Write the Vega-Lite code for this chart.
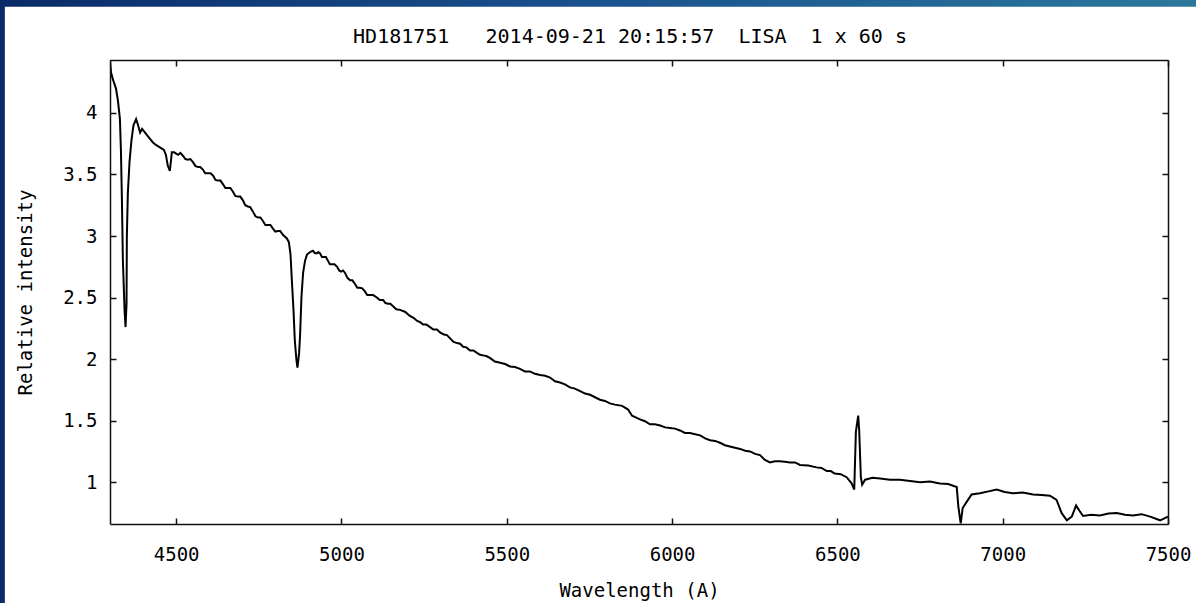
{
  "$schema": "https://vega.github.io/schema/vega-lite/v6.json",
  "width": 1058,
  "height": 464,
  "autosize": {"type": "none"},
  "padding": {"left": 110, "top": 60, "right": 28, "bottom": 79},
  "background": "#ffffff",
  "config": {"view": {"stroke": null}},
  "title": {
    "text": "HD181751\u00a0\u00a0\u00a02014-09-21\u00a020:15:57\u00a0\u00a0LISA\u00a0\u00a01\u00a0x\u00a060\u00a0s",
    "font": "DejaVu Sans Mono",
    "fontSize": 20,
    "fontWeight": "normal",
    "color": "#000000",
    "anchor": "middle",
    "baseline": "alphabetic",
    "dx": -9,
    "dy": 63,
    "offset": 0,
    "zindex": 1
  },
  "data": {
    "values": [
      {"w": 4300, "i": 4.43}, {"w": 4303, "i": 4.33}, {"w": 4309, "i": 4.27}, {"w": 4318, "i": 4.2},
      {"w": 4324, "i": 4.1}, {"w": 4330, "i": 3.95}, {"w": 4333, "i": 3.7}, {"w": 4336, "i": 3.3},
      {"w": 4339, "i": 2.8}, {"w": 4344, "i": 2.4}, {"w": 4347, "i": 2.26}, {"w": 4350, "i": 2.45},
      {"w": 4351, "i": 3.0}, {"w": 4354, "i": 3.35}, {"w": 4359, "i": 3.6}, {"w": 4365, "i": 3.78},
      {"w": 4371, "i": 3.9}, {"w": 4379, "i": 3.95}, {"w": 4385, "i": 3.9}, {"w": 4391, "i": 3.84},
      {"w": 4397, "i": 3.87}, {"w": 4403, "i": 3.85}, {"w": 4412, "i": 3.82}, {"w": 4421, "i": 3.79},
      {"w": 4430, "i": 3.76}, {"w": 4439, "i": 3.74}, {"w": 4451, "i": 3.72}, {"w": 4463, "i": 3.7},
      {"w": 4469, "i": 3.66}, {"w": 4475, "i": 3.57}, {"w": 4481, "i": 3.53}, {"w": 4484, "i": 3.6},
      {"w": 4487, "i": 3.68}, {"w": 4494, "i": 3.68}, {"w": 4506, "i": 3.66}, {"w": 4513, "i": 3.675},
      {"w": 4521, "i": 3.65}, {"w": 4528, "i": 3.625}, {"w": 4536, "i": 3.62}, {"w": 4543, "i": 3.625},
      {"w": 4551, "i": 3.6}, {"w": 4558, "i": 3.57}, {"w": 4566, "i": 3.56}, {"w": 4573, "i": 3.56},
      {"w": 4581, "i": 3.54}, {"w": 4588, "i": 3.51}, {"w": 4596, "i": 3.51}, {"w": 4604, "i": 3.51},
      {"w": 4612, "i": 3.49}, {"w": 4619, "i": 3.455}, {"w": 4627, "i": 3.45}, {"w": 4634, "i": 3.45},
      {"w": 4642, "i": 3.42}, {"w": 4649, "i": 3.39}, {"w": 4657, "i": 3.39}, {"w": 4664, "i": 3.39},
      {"w": 4672, "i": 3.36}, {"w": 4679, "i": 3.325}, {"w": 4687, "i": 3.32}, {"w": 4694, "i": 3.32},
      {"w": 4702, "i": 3.29}, {"w": 4709, "i": 3.25}, {"w": 4717, "i": 3.24}, {"w": 4724, "i": 3.235},
      {"w": 4732, "i": 3.2}, {"w": 4740, "i": 3.16}, {"w": 4748, "i": 3.15}, {"w": 4755, "i": 3.15},
      {"w": 4763, "i": 3.12}, {"w": 4770, "i": 3.09}, {"w": 4778, "i": 3.09}, {"w": 4785, "i": 3.09},
      {"w": 4793, "i": 3.06}, {"w": 4800, "i": 3.035}, {"w": 4808, "i": 3.04}, {"w": 4815, "i": 3.04},
      {"w": 4823, "i": 3.01}, {"w": 4835, "i": 2.98}, {"w": 4841, "i": 2.95}, {"w": 4846, "i": 2.85},
      {"w": 4850, "i": 2.64}, {"w": 4855, "i": 2.4}, {"w": 4859, "i": 2.15}, {"w": 4864, "i": 1.99},
      {"w": 4867, "i": 1.93}, {"w": 4872, "i": 2.05}, {"w": 4875, "i": 2.2}, {"w": 4879, "i": 2.5},
      {"w": 4884, "i": 2.7}, {"w": 4890, "i": 2.8}, {"w": 4896, "i": 2.85}, {"w": 4905, "i": 2.87},
      {"w": 4914, "i": 2.88}, {"w": 4920, "i": 2.86}, {"w": 4926, "i": 2.86}, {"w": 4930, "i": 2.87},
      {"w": 4935, "i": 2.86}, {"w": 4941, "i": 2.83}, {"w": 4947, "i": 2.83}, {"w": 4953, "i": 2.83},
      {"w": 4959, "i": 2.8}, {"w": 4965, "i": 2.77}, {"w": 4971, "i": 2.77}, {"w": 4979, "i": 2.77},
      {"w": 4987, "i": 2.75}, {"w": 4993, "i": 2.72}, {"w": 4999, "i": 2.71}, {"w": 5005, "i": 2.72},
      {"w": 5011, "i": 2.7}, {"w": 5018, "i": 2.66}, {"w": 5026, "i": 2.64}, {"w": 5033, "i": 2.64},
      {"w": 5041, "i": 2.61}, {"w": 5048, "i": 2.58}, {"w": 5056, "i": 2.58}, {"w": 5063, "i": 2.575},
      {"w": 5071, "i": 2.55}, {"w": 5078, "i": 2.52}, {"w": 5086, "i": 2.52}, {"w": 5096, "i": 2.52},
      {"w": 5107, "i": 2.5}, {"w": 5116, "i": 2.48}, {"w": 5126, "i": 2.48}, {"w": 5133, "i": 2.455},
      {"w": 5141, "i": 2.45}, {"w": 5148, "i": 2.45}, {"w": 5156, "i": 2.43}, {"w": 5166, "i": 2.405},
      {"w": 5177, "i": 2.4}, {"w": 5192, "i": 2.385}, {"w": 5207, "i": 2.35}, {"w": 5218, "i": 2.335},
      {"w": 5229, "i": 2.31}, {"w": 5238, "i": 2.3}, {"w": 5247, "i": 2.28}, {"w": 5257, "i": 2.28},
      {"w": 5268, "i": 2.26}, {"w": 5278, "i": 2.24}, {"w": 5289, "i": 2.24}, {"w": 5299, "i": 2.215},
      {"w": 5310, "i": 2.2}, {"w": 5319, "i": 2.195}, {"w": 5328, "i": 2.17}, {"w": 5339, "i": 2.14},
      {"w": 5350, "i": 2.13}, {"w": 5359, "i": 2.125}, {"w": 5368, "i": 2.1}, {"w": 5378, "i": 2.095},
      {"w": 5389, "i": 2.07}, {"w": 5399, "i": 2.07}, {"w": 5410, "i": 2.05}, {"w": 5419, "i": 2.035},
      {"w": 5428, "i": 2.03}, {"w": 5438, "i": 2.025}, {"w": 5449, "i": 2.01}, {"w": 5464, "i": 1.98},
      {"w": 5480, "i": 1.97}, {"w": 5495, "i": 1.96}, {"w": 5510, "i": 1.94}, {"w": 5525, "i": 1.935},
      {"w": 5540, "i": 1.92}, {"w": 5555, "i": 1.9}, {"w": 5570, "i": 1.9}, {"w": 5585, "i": 1.88},
      {"w": 5601, "i": 1.87}, {"w": 5616, "i": 1.865}, {"w": 5631, "i": 1.85}, {"w": 5646, "i": 1.82},
      {"w": 5661, "i": 1.81}, {"w": 5676, "i": 1.795}, {"w": 5691, "i": 1.77}, {"w": 5706, "i": 1.76},
      {"w": 5722, "i": 1.74}, {"w": 5737, "i": 1.72}, {"w": 5752, "i": 1.71}, {"w": 5767, "i": 1.69},
      {"w": 5782, "i": 1.67}, {"w": 5797, "i": 1.66}, {"w": 5812, "i": 1.64}, {"w": 5827, "i": 1.63},
      {"w": 5849, "i": 1.62}, {"w": 5867, "i": 1.59}, {"w": 5879, "i": 1.54}, {"w": 5903, "i": 1.51},
      {"w": 5918, "i": 1.495}, {"w": 5933, "i": 1.47}, {"w": 5948, "i": 1.47}, {"w": 5964, "i": 1.46},
      {"w": 5979, "i": 1.445}, {"w": 5994, "i": 1.44}, {"w": 6009, "i": 1.435}, {"w": 6024, "i": 1.42},
      {"w": 6039, "i": 1.4}, {"w": 6054, "i": 1.4}, {"w": 6070, "i": 1.39}, {"w": 6085, "i": 1.38},
      {"w": 6100, "i": 1.355}, {"w": 6115, "i": 1.34}, {"w": 6130, "i": 1.335}, {"w": 6145, "i": 1.32},
      {"w": 6160, "i": 1.3}, {"w": 6175, "i": 1.29}, {"w": 6190, "i": 1.28}, {"w": 6206, "i": 1.27},
      {"w": 6221, "i": 1.255}, {"w": 6236, "i": 1.25}, {"w": 6251, "i": 1.23}, {"w": 6266, "i": 1.22},
      {"w": 6281, "i": 1.18}, {"w": 6296, "i": 1.16}, {"w": 6311, "i": 1.17}, {"w": 6326, "i": 1.17},
      {"w": 6341, "i": 1.165}, {"w": 6357, "i": 1.16}, {"w": 6372, "i": 1.16}, {"w": 6387, "i": 1.14},
      {"w": 6412, "i": 1.135}, {"w": 6437, "i": 1.12}, {"w": 6452, "i": 1.115}, {"w": 6468, "i": 1.09},
      {"w": 6480, "i": 1.09}, {"w": 6492, "i": 1.07}, {"w": 6510, "i": 1.065}, {"w": 6528, "i": 1.04},
      {"w": 6543, "i": 0.99}, {"w": 6551, "i": 0.94}, {"w": 6556, "i": 1.41}, {"w": 6563, "i": 1.54},
      {"w": 6566, "i": 1.42}, {"w": 6571, "i": 1.04}, {"w": 6575, "i": 0.98}, {"w": 6584, "i": 1.02},
      {"w": 6606, "i": 1.035}, {"w": 6629, "i": 1.03}, {"w": 6659, "i": 1.02}, {"w": 6689, "i": 1.02},
      {"w": 6720, "i": 1.01}, {"w": 6750, "i": 1.0}, {"w": 6780, "i": 1.005}, {"w": 6810, "i": 0.99},
      {"w": 6835, "i": 0.985}, {"w": 6861, "i": 0.96}, {"w": 6866, "i": 0.8}, {"w": 6873, "i": 0.665},
      {"w": 6879, "i": 0.79}, {"w": 6891, "i": 0.84}, {"w": 6906, "i": 0.9}, {"w": 6931, "i": 0.91},
      {"w": 6957, "i": 0.925}, {"w": 6982, "i": 0.94}, {"w": 7006, "i": 0.92}, {"w": 7031, "i": 0.91},
      {"w": 7061, "i": 0.915}, {"w": 7092, "i": 0.9}, {"w": 7118, "i": 0.895}, {"w": 7143, "i": 0.89},
      {"w": 7163, "i": 0.855}, {"w": 7178, "i": 0.75}, {"w": 7194, "i": 0.69}, {"w": 7209, "i": 0.72},
      {"w": 7222, "i": 0.81}, {"w": 7234, "i": 0.76}, {"w": 7243, "i": 0.725}, {"w": 7268, "i": 0.735},
      {"w": 7294, "i": 0.73}, {"w": 7320, "i": 0.745}, {"w": 7345, "i": 0.75}, {"w": 7370, "i": 0.735},
      {"w": 7394, "i": 0.73}, {"w": 7420, "i": 0.74}, {"w": 7446, "i": 0.72}, {"w": 7476, "i": 0.69},
      {"w": 7500, "i": 0.72}
    ]
  },
  "resolve": {"axis": {"x": "independent", "y": "independent"}},
  "layer": [
    {
      "data": {"values": [{}]},
      "mark": {
        "type": "rect",
        "fill": {
          "gradient": "linear",
          "x1": 0, "y1": 0, "x2": 1, "y2": 0,
          "stops": [
            {"offset": 0, "color": "#0a2b68"},
            {"offset": 0.5, "color": "#1a528e"},
            {"offset": 1, "color": "#2b789c"}
          ]
        }
      },
      "encoding": {
        "x": {"datum": 3967, "type": "quantitative", "axis": null, "scale": {"domain": [4300, 7500], "nice": false, "zero": false}},
        "x2": {"datum": 7585},
        "y": {"datum": -0.2, "type": "quantitative", "axis": null, "scale": {"domain": [0.66, 4.43], "nice": false, "zero": false}},
        "y2": {"datum": 4.92}
      }
    },
    {
      "data": {"values": [{}]},
      "mark": {"type": "rect", "fill": "#ffffff"},
      "encoding": {
        "x": {"datum": 3982, "type": "quantitative", "axis": null, "scale": {"domain": [4300, 7500], "nice": false, "zero": false}},
        "x2": {"datum": 7700},
        "y": {"datum": -0.2, "type": "quantitative", "axis": null, "scale": {"domain": [0.66, 4.43], "nice": false, "zero": false}},
        "y2": {"datum": 4.863}
      }
    },
    {
      "mark": {"type": "line", "color": "#000000", "strokeWidth": 2, "clip": true},
      "encoding": {
        "x": {
          "field": "w", "type": "quantitative",
          "scale": {"domain": [4300, 7500], "nice": false, "zero": false},
          "axis": {
            "orient": "bottom", "values": [4500, 5000, 5500, 6000, 6500, 7000, 7500], "format": "d",
            "title": "Wavelength (A)", "grid": false, "zindex": 1,
            "tickSize": -6, "tickWidth": 1.5, "tickColor": "#111111",
            "domainColor": "#111111", "domainWidth": 1.5,
            "labelPadding": 27, "labelFont": "DejaVu Sans Mono", "labelFontSize": 19, "labelColor": "#000000",
            "labelFlush": false, "labelOverlap": false,
            "titleFont": "DejaVu Sans Mono", "titleFontSize": 19, "titleFontWeight": "normal", "titleColor": "#000000",
            "titleY": 72, "titleBaseline": "alphabetic"
          }
        },
        "y": {
          "field": "i", "type": "quantitative",
          "scale": {"domain": [0.66, 4.43], "nice": false, "zero": false},
          "axis": {
            "orient": "left", "values": [1, 1.5, 2, 2.5, 3, 3.5, 4], "format": "~g",
            "title": "Relative intensity", "grid": false, "zindex": 1,
            "tickSize": -6, "tickWidth": 1.5, "tickColor": "#111111",
            "domainColor": "#111111", "domainWidth": 1.5,
            "labelPadding": 19, "labelFont": "DejaVu Sans Mono", "labelFontSize": 19, "labelColor": "#000000",
            "labelFlush": false, "labelOverlap": false,
            "titleFont": "DejaVu Sans Mono", "titleFontSize": 19, "titleFontWeight": "normal", "titleColor": "#000000",
            "titleX": -85, "titleY": 232, "titleAngle": 270, "titleBaseline": "middle", "titleAlign": "center"
          }
        }
      }
    },
    {
      "mark": {"type": "line", "opacity": 0},
      "encoding": {
        "x": {
          "field": "w", "type": "quantitative",
          "scale": {"domain": [4300, 7500], "nice": false, "zero": false},
          "axis": {
            "orient": "top", "values": [4500, 5000, 5500, 6000, 6500, 7000, 7500],
            "labels": false, "title": null, "grid": false, "zindex": 1,
            "tickSize": -6, "tickWidth": 1.5, "tickColor": "#111111",
            "domainColor": "#111111", "domainWidth": 1.5
          }
        },
        "y": {
          "field": "i", "type": "quantitative",
          "scale": {"domain": [0.66, 4.43], "nice": false, "zero": false},
          "axis": {
            "orient": "right", "values": [1, 1.5, 2, 2.5, 3, 3.5, 4],
            "labels": false, "title": null, "grid": false, "zindex": 1,
            "tickSize": -6, "tickWidth": 1.5, "tickColor": "#111111",
            "domainColor": "#111111", "domainWidth": 1.5
          }
        }
      }
    }
  ]
}
